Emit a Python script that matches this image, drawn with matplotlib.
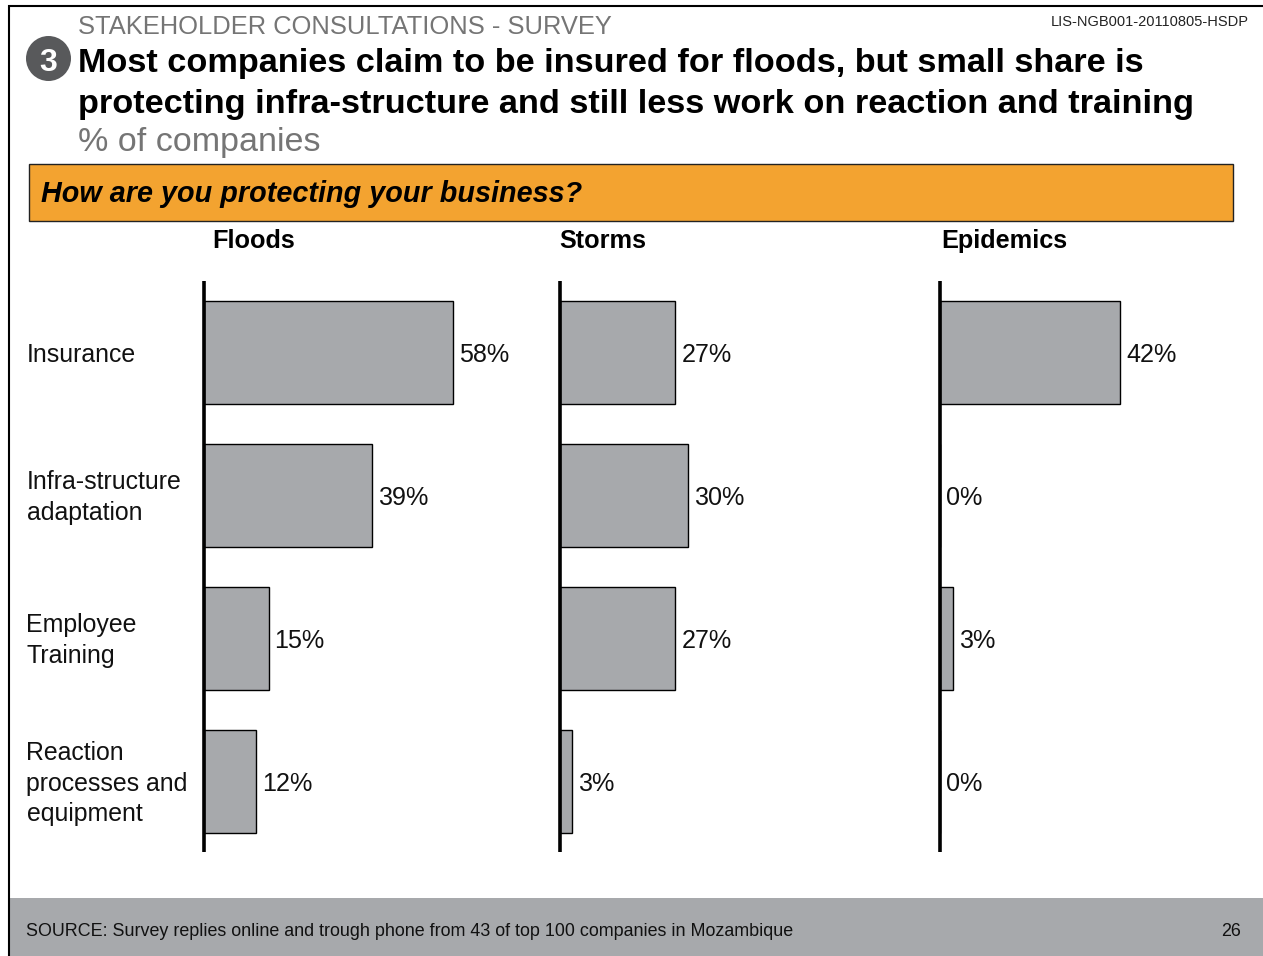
"""Survey slide: how companies protect their business against floods, storms and epidemics."""

import matplotlib
matplotlib.use("Agg")
import matplotlib.pyplot as plt
from matplotlib.patches import Circle, Rectangle

plt.rcParams["font.family"] = ["Liberation Sans", "DejaVu Sans"]

W, H = 1263, 956

categories = [
    "Insurance",
    "Infra-structure\nadaptation",
    "Employee\nTraining",
    "Reaction\nprocesses and\nequipment",
]
hazards = ["Floods", "Storms", "Epidemics"]
floods = [58, 39, 15, 12]
storms = [27, 30, 27, 3]
epidemics = [42, 0, 3, 0]

BAR_GREY = "#a7a9ac"
ORANGE = "#f3a330"
TEXT_GREY = "#757575"

PX_PER_PCT = 4.29
AXIS_TOP, AXIS_BOTTOM = 281, 852
ROW_STEP = 143


def add_panel(fig, x0, width, values):
    """Horizontal bar panel whose spine sits at pixel x0."""
    ax = fig.add_axes([x0 / W, 1 - AXIS_BOTTOM / H, width / W, (AXIS_BOTTOM - AXIS_TOP) / H])
    ax.barh(range(len(values)), values, height=0.715, color=BAR_GREY,
            edgecolor="black", linewidth=1.0)
    ax.set_xlim(0, width / PX_PER_PCT)
    ax.set_ylim((AXIS_BOTTOM - 352.5) / ROW_STEP, (AXIS_TOP - 352.5) / ROW_STEP)
    for i, v in enumerate(values):
        ax.annotate(f"{v}%", (v, i), xytext=(4.3, 0), textcoords="offset points",
                    va="center_baseline", ha="left", fontsize=18.1, color="#111111")
    for side in ["top", "right", "bottom"]:
        ax.spines[side].set_visible(False)
    ax.spines["left"].set_linewidth(2.6)
    ax.spines["left"].set_capstyle("butt")
    ax.patch.set_alpha(0)
    ax.set_xticks([])
    ax.set_yticks([])
    return ax


fig = plt.figure(figsize=(W / 100, H / 100), dpi=100, facecolor="white")

# full-figure overlay in pixel coordinates for the slide furniture
bg = fig.add_axes([0, 0, 1, 1])
bg.set_xlim(0, W)
bg.set_ylim(H, 0)
bg.axis("off")

bg.add_patch(Rectangle((9, 898), W - 9, H - 898, facecolor=BAR_GREY, edgecolor="none"))
bg.plot([8.5, 8.5, W], [H, 6, 6], color="black", linewidth=1.5, solid_joinstyle="miter")
bg.add_patch(Rectangle((29, 164), 1204, 57, facecolor=ORANGE,
                       edgecolor="#222222", linewidth=1.0))
bg.add_patch(Circle((48.5, 58.5), 22.5, facecolor="#58595b", edgecolor="none"))

bg.text(48.5, 63, "3", color="white", fontsize=23, fontweight="bold", ha="center", va="center")
bg.text(78, 27, "STAKEHOLDER CONSULTATIONS - SURVEY", color=TEXT_GREY, fontsize=18.37,
        ha="left", va="center")
bg.text(1248.5, 21.5, "LIS-NGB001-20110805-HSDP", color="#222222", fontsize=10.5,
        ha="right", va="center")
bg.text(78, 63, "Most companies claim to be insured for floods, but small share is",
        color="black", fontsize=24.67, fontweight="bold", ha="left", va="center")
bg.text(78, 104, "protecting infra-structure and still less work on reaction and training",
        color="black", fontsize=24.67, fontweight="bold", ha="left", va="center")
bg.text(78, 142, "% of companies", color=TEXT_GREY, fontsize=24.5, ha="left", va="center")
bg.text(41, 194, "How are you protecting your business?", color="black", fontsize=20.7,
        fontweight="bold", fontstyle="italic", ha="left", va="center")

for name, x in zip(hazards, [212.5, 559.5, 941]):
    bg.text(x, 240.5, name, color="black", fontsize=18.15, fontweight="bold", ha="left", va="center")

for i, label in enumerate(categories):
    bg.text(26.5, 354.5 + i * ROW_STEP, label, color="#111111", fontsize=17.95, ha="left",
            va="center", linespacing=1.33)

bg.text(26.5, 931, "SOURCE: Survey replies online and trough phone from 43 of top 100 companies in Mozambique",
        color="#111111", fontsize=12.86, ha="left", va="center")
bg.text(1241, 931, "26", color="#111111", fontsize=12.86, ha="right", va="center")

add_panel(fig, 204.3, 300, floods)
add_panel(fig, 559.5, 300, storms)
add_panel(fig, 939.8, 300, epidemics)

fig.savefig("out.png", dpi=100)
plt.close(fig)
